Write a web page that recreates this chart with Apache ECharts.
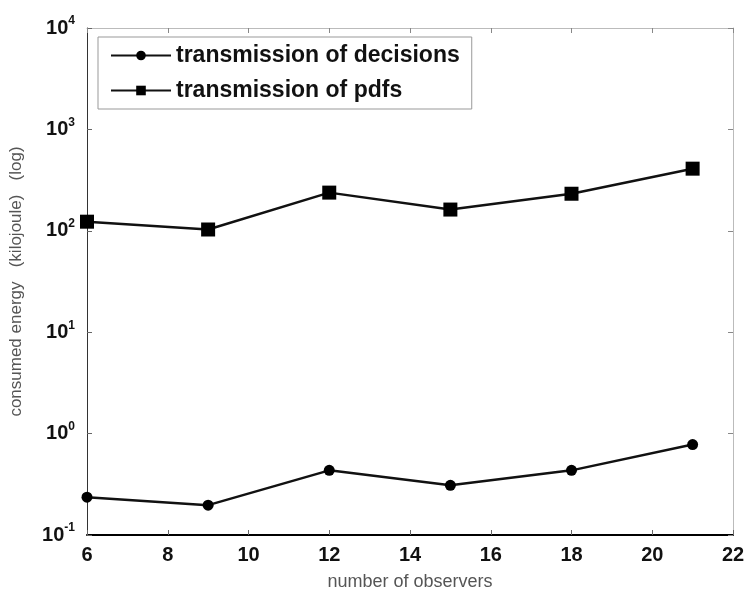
<!DOCTYPE html>
<html>
<head>
<meta charset="utf-8">
<script src="https://cdn.jsdelivr.net/npm/echarts@6/dist/echarts.min.js"></script>
<style>
html,body{margin:0;padding:0;background:#fff;}
#chart{width:748px;height:596px;}
</style>
</head>
<body>
<div id="chart"></div>
<script>
const observers = [6, 9, 12, 15, 18, 21];
const decisionsEnergy = [0.236, 0.197, 0.434, 0.309, 0.434, 0.78];
const pdfsEnergy = [123, 103, 238, 162, 232, 410];
const xTickLabels = [6, 8, 10, 12, 14, 16, 18, 20, 22];
const yTickExponents = [-1, 0, 1, 2, 3, 4];

const chart = echarts.init(document.getElementById('chart'), null, {renderer: 'canvas'});
const fontFam = '"Liberation Sans", Arial, sans-serif';

function yLabel(v) {
  const e = Math.round(Math.log10(v));
  if (yTickExponents.indexOf(e) < 0) return '';
  return '{b|10}{s|' + e + '}';
}

const option = {
  backgroundColor: '#fff',
  animation: false,
  grid: {left: 85, right: 15, top: 28, bottom: 59, containLabel: false},
  legend: {
    orient: 'vertical',
    left: 98, top: 37,
    itemWidth: 60, itemHeight: 12, itemGap: 12,
    padding: [7, 12, 7, 12],
    backgroundColor: '#fff',
    borderColor: '#999', borderWidth: 1,
    textStyle: {fontFamily: fontFam, fontSize: 23, fontWeight: 'bold', color: '#111', lineHeight: 23},
    data: ['transmission of decisions', 'transmission of pdfs']
  },
  xAxis: [{
    type: 'value', min: xTickLabels[0], max: xTickLabels[xTickLabels.length - 1], interval: 2,
    position: 'bottom',
    name: 'number of observers', nameLocation: 'middle', nameGap: 38,
    nameTextStyle: {fontFamily: fontFam, fontSize: 18, color: '#555'},
    axisLine: {show: true, lineStyle: {color: '#000', width: 2}},
    axisTick: {show: true, inside: true, length: 5, lineStyle: {color: '#666'}},
    axisLabel: {fontFamily: fontFam, fontSize: 20, fontWeight: 'bold', color: '#111', margin: 10},
    splitLine: {show: false}
  }, {
    type: 'value', min: xTickLabels[0], max: xTickLabels[xTickLabels.length - 1], interval: 2,
    position: 'top',
    axisLine: {show: true, lineStyle: {color: '#bbb', width: 1}},
    axisTick: {show: true, inside: true, length: 5, lineStyle: {color: '#888'}},
    axisLabel: {show: false},
    splitLine: {show: false}
  }],
  yAxis: [{
    type: 'log', logBase: 10, min: 0.1, max: 10000,
    position: 'left',
    name: 'consumed energy   (kilojoule)   (log)', nameLocation: 'middle', nameGap: 62, nameRotate: 90,
    nameTextStyle: {fontFamily: fontFam, fontSize: 17, color: '#555'},
    axisLine: {show: true, lineStyle: {color: '#333', width: 1}},
    axisTick: {show: true, inside: true, length: 5, lineStyle: {color: '#666'}},
    axisLabel: {
      formatter: yLabel, margin: 12,
      rich: {
        b: {fontFamily: fontFam, fontSize: 20, fontWeight: 'bold', color: '#111'},
        s: {fontFamily: fontFam, fontSize: 12, fontWeight: 'bold', color: '#111', verticalAlign: 'top', padding: [0, 0, 14, 0]}
      }
    },
    splitLine: {show: false}
  }, {
    type: 'log', logBase: 10, min: 0.1, max: 10000,
    position: 'right',
    axisLine: {show: true, lineStyle: {color: '#bbb', width: 1}},
    axisTick: {show: true, inside: true, length: 5, lineStyle: {color: '#888'}},
    axisLabel: {show: false},
    splitLine: {show: false}
  }],
  series: [{
    name: 'transmission of decisions',
    type: 'line',
    data: observers.map((x, i) => [x, decisionsEnergy[i]]),
    symbol: 'circle', symbolSize: 11,
    itemStyle: {color: '#000'},
    lineStyle: {color: '#111', width: 2.5},
    clip: false
  }, {
    name: 'transmission of pdfs',
    type: 'line',
    data: observers.map((x, i) => [x, pdfsEnergy[i]]),
    symbol: 'rect', symbolSize: 14,
    itemStyle: {color: '#000'},
    lineStyle: {color: '#111', width: 2.5},
    clip: false
  }]
};
chart.setOption(option);
</script>
</body>
</html>
